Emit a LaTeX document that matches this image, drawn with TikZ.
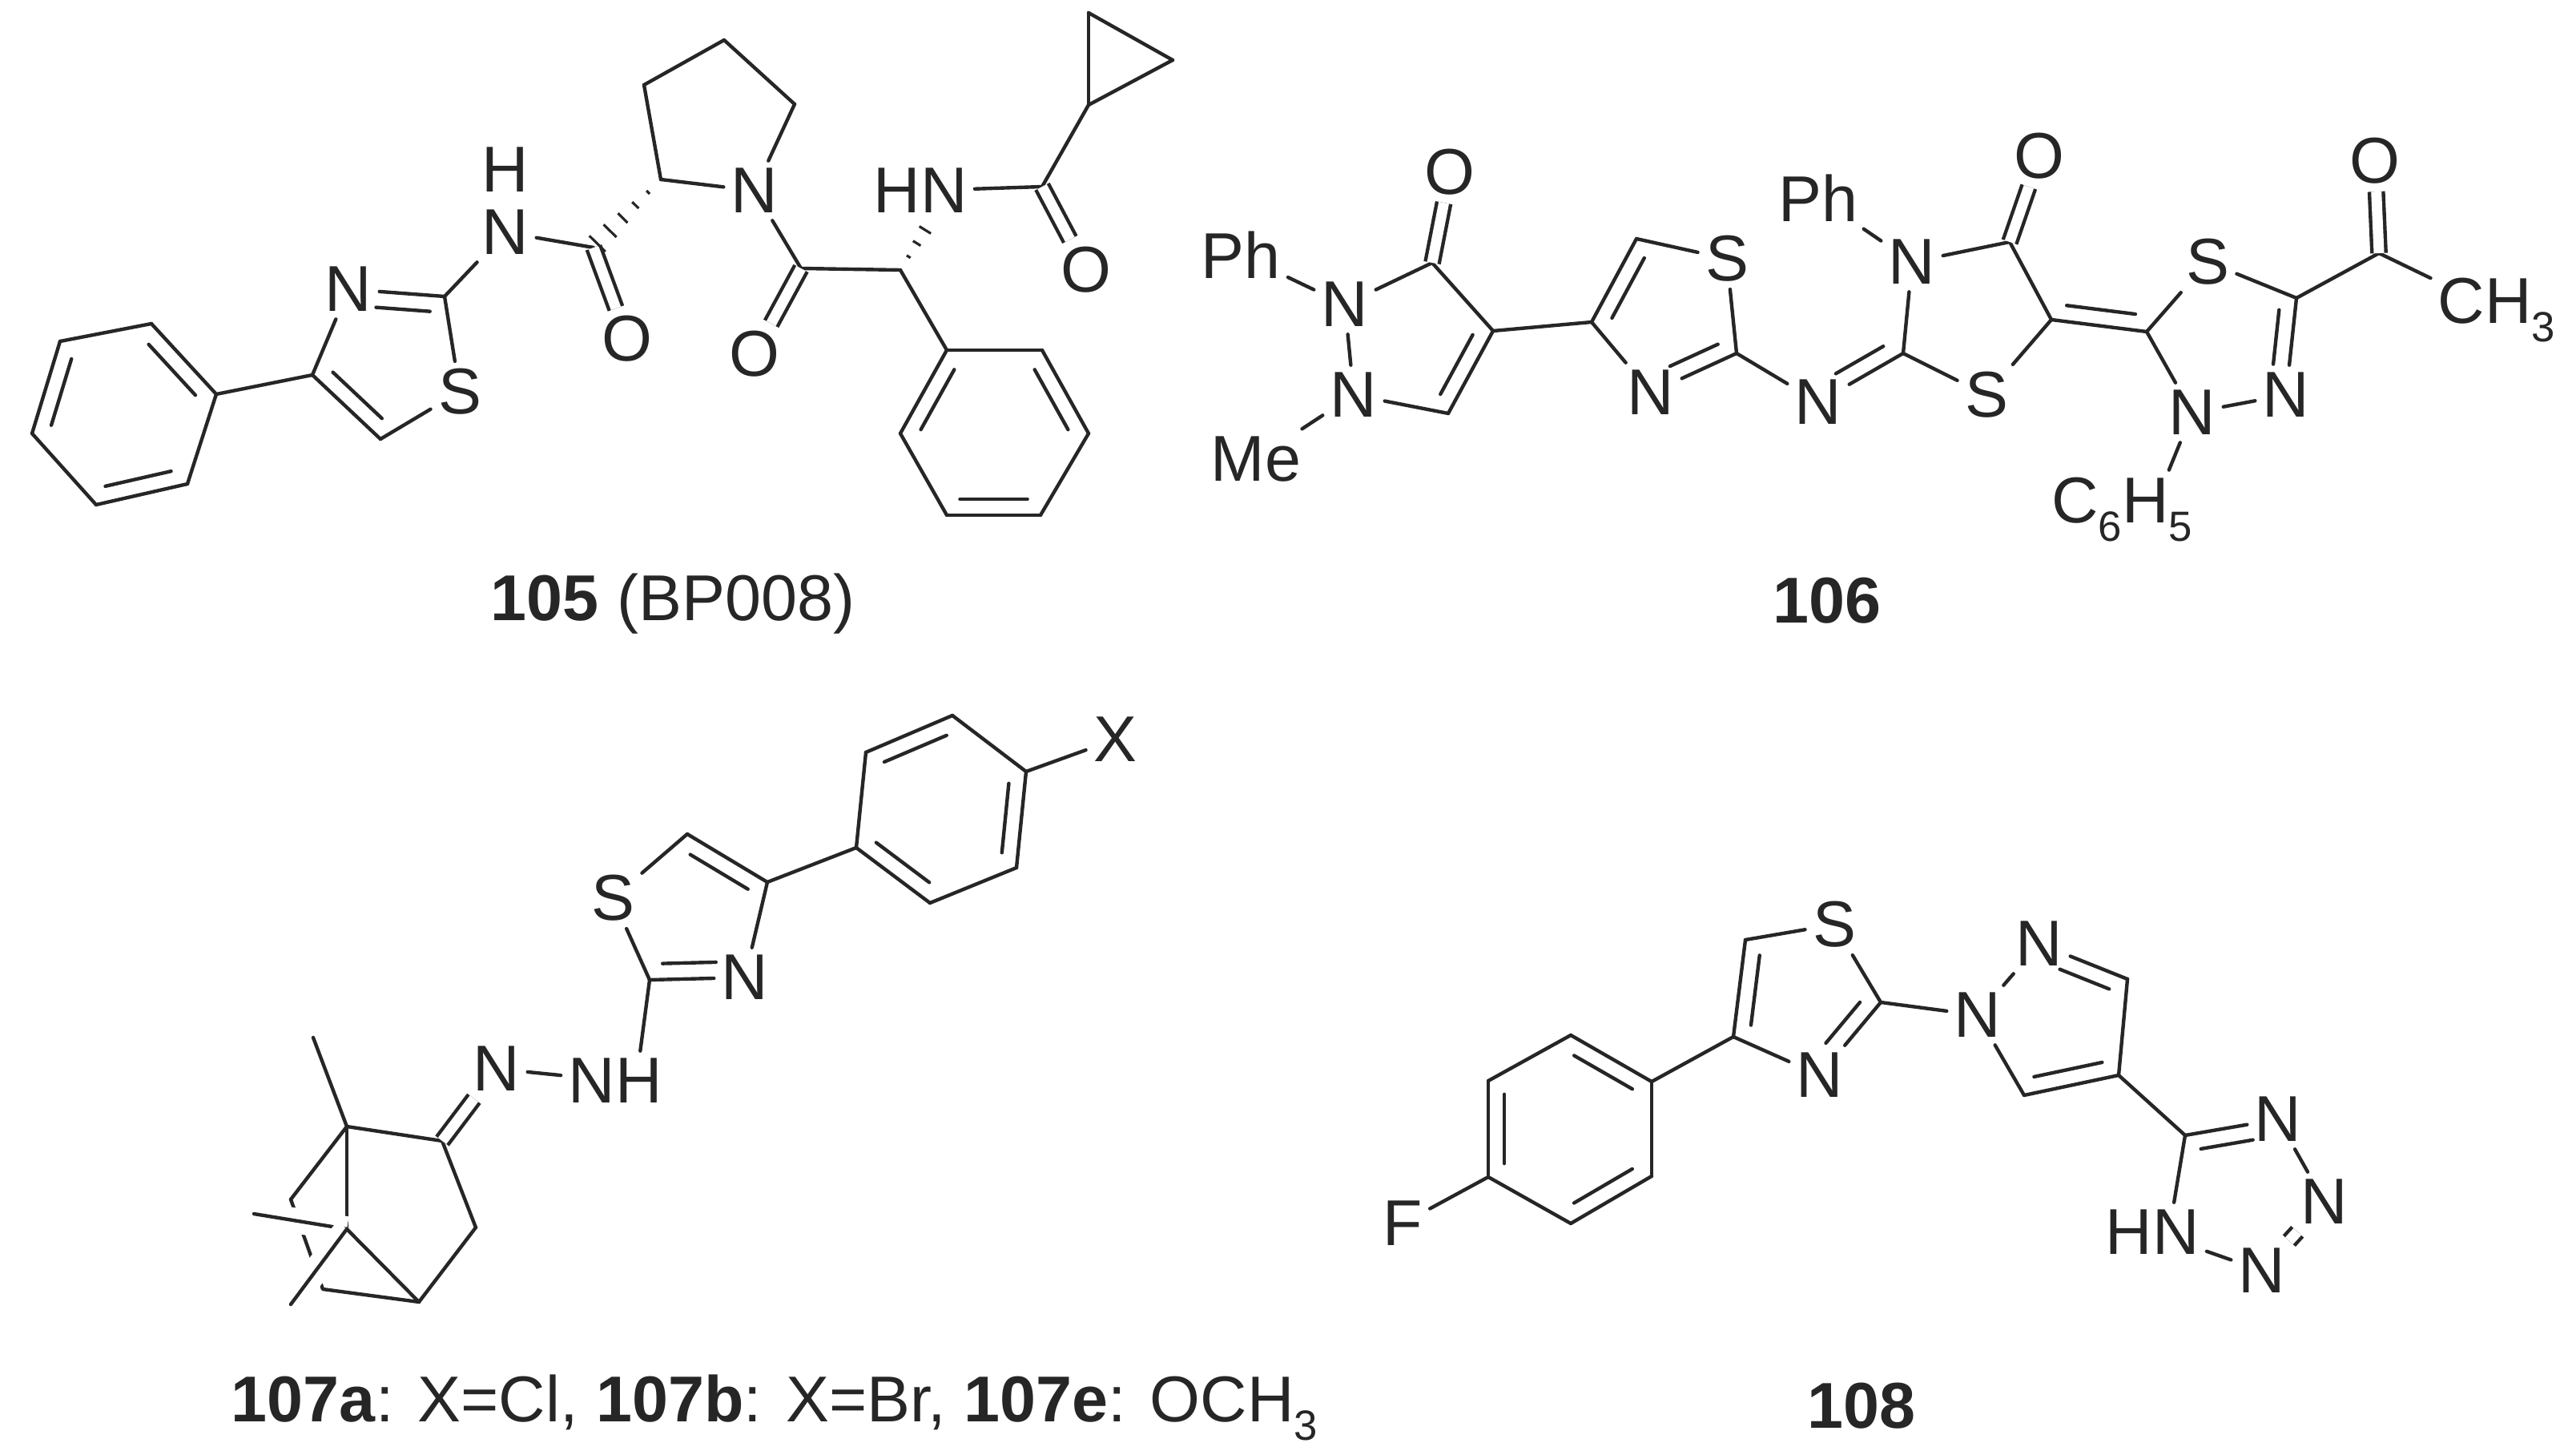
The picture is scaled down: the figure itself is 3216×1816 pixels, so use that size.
\documentclass[tikz,border=0pt]{standalone}
\usepackage{fontspec}
\setmainfont{Liberation Sans}
\usetikzlibrary{calc}
\definecolor{ink}{gray}{0.15}
\tikzstyle{bond}=[draw=ink, line width=1.25pt, line cap=round, line join=round]
\tikzstyle{dblc}=[bond, double, double distance=.13cm, line cap=butt]
\tikzstyle{halo}=[preaction={draw=white, line width=9pt}]
\tikzstyle{atom}=[inner sep=2.5pt, text=ink, font=\fontsize{23}{25}\selectfont]
\newcommand{\atom}{\node[atom]}
\newcommand{\lowtext}[1]{\raisebox{-.28em}{\fontsize{15}{15}\selectfont #1}}
% inner line of a double bond, on the left going from #2 to #3
\newcommand{\dbond}[4][.14]{
	\draw[bond] (#2) -- (#3);
	\draw[bond] ($(#2)!.14!(#3)!#4*.01cm!90:(#3)$) -- ($(#3)!#1!(#2)!-(#4)*.01cm!90:(#2)$);
}
\newcommand{\hashb}[3]{
	\foreach \i in {1,...,#3}{
		\draw[draw=ink, line width=.9pt] ($(#1)!\i/(#3+.3)!(#2)!\i*.8pt!90:(#2)$) -- ($(#1)!\i/(#3+.3)!(#2)!-\i*.8pt!90:(#2)$);
	}
}

\begin{document}
\begin{tikzpicture}[x=.01cm, y=-.01cm]
\useasboundingbox (0,0) rectangle (3216,1816);
% carbons
\foreach \n/\x/\y in {a1/189/404,a2/75/426,a3/40/541,a4/120/630,a5/234/604,a6/270/492,
	a7/390/468,a8/475/548,a9/555/370,a10/741/309,a11/825/224,a12/804/106,a13/904/50,a14/992/130,
	a15/1000/335,a16/1124/337,a17/1158/282,b1/1182/437,b2/1301/437,b3/1359/541,b4/1299/643,b5/1182/643,b6/1124/541,
	a18/1301/233,a19/1359/131,a20/1359/16,a21/1464/75,
	c1/1788/328,c2/1864/413,c3/1808/516,c4/1987/402,c5/2043/298,c6/2168/441,
	c7/2376/441,c8/2561/399,c9/2509/302,c10/2680/414,c11/2867/372,c12/2970/316,
	d1/1281/963,d2/1189/893,d3/1081/939,d4/1069/1058,d5/1161/1127,d6/1269/1083,d7/958/1101,d8/858/1041,d9/811/1223,
	e1/552/1424,e2/433/1406,e3/391/1295,e4/594/1532,e5/523/1625,e6/433/1534,e7/363/1497,e8/403/1609,e9/317/1515,e10/363/1628,
	f1/1858/1469,f2/1858/1349,f3/1961/1292,f4/2062/1350,f5/2062/1468,f6/1961/1527,f7/2164/1294,f8/2179/1173,f9/2348/1251,
	g1/2656/1222,g2/2645/1342,g3/2527/1367,g4/2728/1417}{
	\coordinate (\n) at (\x,\y);
	}
% labelled atoms
\foreach \n/\x/\y/\lab in {na1/435/361/N,sa1/574/489/S,na2/631/290/N,ha1/631/212/H,oa1/783/423/O,na3/942/238/N,oa2/942/442/O,na4/1149/238/HN,oa3/1356/337/O,
	pc1/1549/318/Ph,nc1/1679/380/N,oc1/1810/215/O,nc2/1690/493/N,mc1/1568/573/Me,sc1/2156/323/S,nc3/2061/490/N,nc4/2270/502/N,
	sc2/2480/493/S,nc5/2387/327/N,pc2/2270/247/Ph,oc2/2546/195/O,sc3/2756/327/S,nc6/2854/493/N,nc7/2737/515/N,oc3/2965/201/O,
	xd1/1392/923/X,sd1/765/1121/S,nd1/930/1220/N,nd2/768/1349/NH,nd3/620/1334/N,
	ff1/1751/1527/F,nf1/2272/1342/N,sf1/2290/1154/S,ng1/2469/1267/N,ng2/2546/1178/N,
	ng3/2844/1397/N,ng4/2902/1500/N,ng5/2824/1586/N,ng6/2687/1538/HN}{
	\atom (\n) at (\x,\y) {\lab};
	}
\atom (ch3) at (3117,387) {CH\lowtext{3}};
\atom (c6h5) at (2649,636) {C\lowtext{6}H\lowtext{5}};
% captions
\atom (t105) at (840,754) {\textbf{105} (BP008)};
\atom (t106) at (2281,750) {\textbf{106}};
\atom (t107) at (967,1757) {\textbf{107a}: X=Cl, \textbf{107b}: X=Br, \textbf{107e}: OCH\lowtext{3}};
\atom (t108) at (2324,1755) {\textbf{108}};
% 105
\foreach \a/\b in {a1/a2,a3/a4,a5/a6,a6/a7,a8/sa1,a9/sa1,a7/na1,a9/na2,na2/a10,a11/a12,a12/a13,a13/a14,a14/na3,a11/na3,
	na3/a15,a15/a16,a16/b1,b1/b2,b3/b4,b5/b6,na4/a18,a18/a19,a19/a20,a20/a21,a21/a19}{
	\draw[bond] (\a) -- (\b);
	}
\dbond{a2}{a3}{20}
\dbond{a4}{a5}{20}
\dbond{a6}{a1}{20}
\dbond{a7}{a8}{20}
\dbond[.3]{a9}{na1}{20}
\dbond{b1}{b6}{20}
\dbond{b5}{b4}{20}
\dbond{b3}{b2}{20}
\draw[dblc] (a10) -- (oa1);
\draw[dblc] (a15) -- (oa2);
\draw[dblc] (a18) -- (oa3);
\hashb{a11}{a10}{5}
\hashb{a16}{a17}{3}
% 106
\foreach \a/\b in {pc1/nc1,nc1/c1,nc1/nc2,nc2/c3,mc1/nc2,c1/c2,c2/c4,c4/nc3,c5/sc1,sc1/c6,c6/nc4,c7/sc2,sc2/c8,c8/c9,c9/nc5,nc5/c7,pc2/nc5,
	c10/sc3,sc3/c11,c11/c12,c12/ch3,c10/nc7,nc7/nc6}{
	\draw[bond] (\a) -- (\b);
	}
\draw[bond] (nc7) -- (c6h5.40);
\dbond{c2}{c3}{-20}
\dbond{c4}{c5}{-20}
\dbond[.3]{c6}{nc3}{-20}
\dbond[.3]{c7}{nc4}{-20}
\dbond{c8}{c10}{20}
\dbond[.3]{c11}{nc6}{-20}
\draw[dblc] (c1) -- (oc1);
\draw[dblc] (c9) -- (oc2);
\draw[dblc] (c12) -- (oc3);
% 107
\foreach \a/\b in {d1/d2,d3/d4,d5/d6,d1/xd1,d4/d7,d7/nd1,d8/sd1,sd1/d9,nd3/nd2,e1/e2,e2/e3,e1/e4,e4/e5,e2/e6,e2/e7}{
	\draw[bond] (\a) -- (\b);
	}
\draw[bond] (d9) -- (nd2.50);
\dbond{d2}{d3}{20}
\dbond{d4}{d5}{20}
\dbond{d6}{d1}{20}
\dbond{d7}{d8}{20}
\dbond[.3]{d9}{nd1}{20}
\draw[dblc] (e1) -- (nd3);
\draw[bond] (e7) -- (e8) -- (e5);
\draw[bond, halo] (e9) -- (e6);
\draw[bond, halo] (e10) -- (e6);
\draw[bond] (e6) -- (e5);
% 108
\foreach \a/\b in {f1/ff1,f1/f6,f5/f4,f2/f3,f4/f7,f7/nf1,f8/sf1,sf1/f9,f9/ng1,ng1/ng2,ng1/g3,g1/g2,g2/g4,ng3/ng4,ng5/ng6}{
	\draw[bond] (\a) -- (\b);
	}
\draw[bond] (g4) -- (ng6.54);
\dbond{f2}{f1}{20}
\dbond{f4}{f3}{20}
\dbond{f6}{f5}{20}
\dbond{f7}{f8}{-20}
\dbond[.3]{f9}{nf1}{-20}
\dbond[.3]{g1}{ng2}{20}
\dbond{g2}{g3}{-20}
\dbond[.3]{g4}{ng3}{-20}
\draw[dblc] (ng4) -- (ng5);
\end{tikzpicture}
\end{document}
